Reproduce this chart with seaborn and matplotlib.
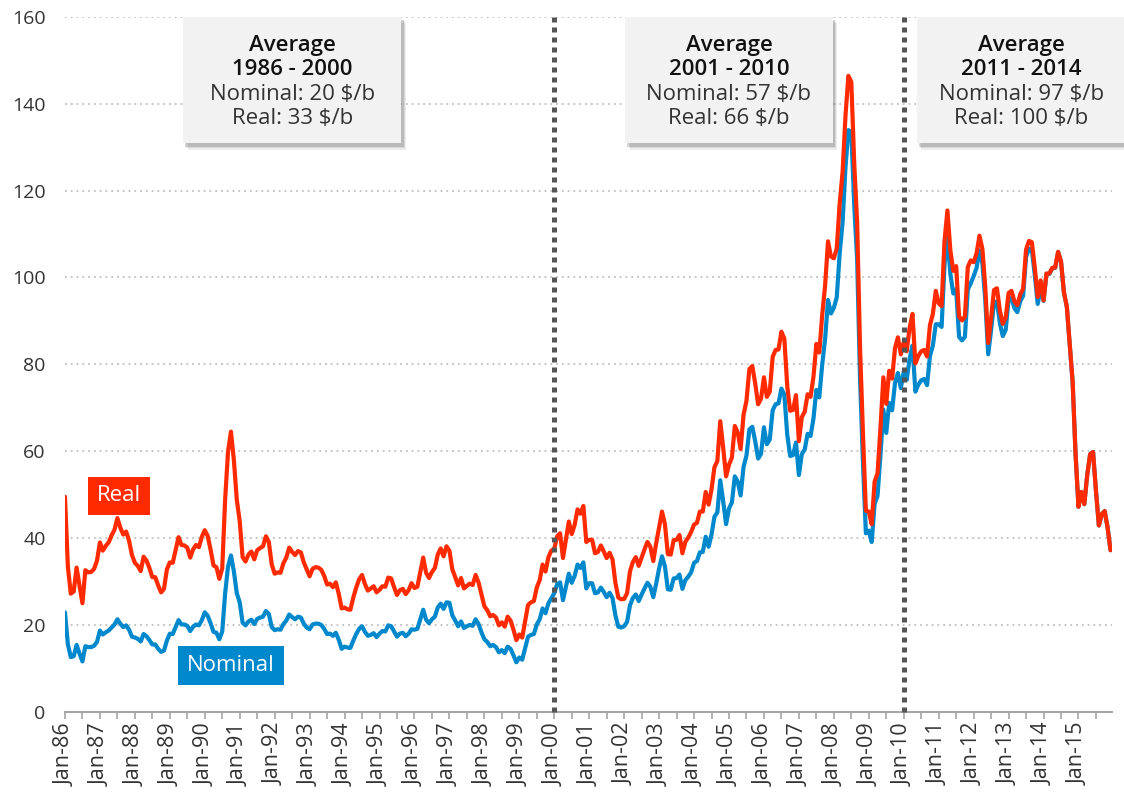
import numpy as np
import seaborn as sns
import matplotlib.pyplot as plt
from matplotlib.patches import Rectangle

# Monthly crude oil price, Jan-1986 .. Dec-2015, $/b
nominal = [
    22.9, 15.5, 12.6, 12.8, 15.4, 13.4, 11.6, 15.1, 14.9, 14.9, 15.2, 16.1,   # 1986
    18.7, 17.8, 18.3, 18.7, 19.4, 20.1, 21.3, 20.3, 19.5, 19.9, 18.9, 17.3,   # 1987
    17.1, 16.8, 16.2, 17.9, 17.4, 16.5, 15.5, 15.5, 14.5, 13.8, 14.1, 16.4,   # 1988
    18.0, 17.9, 19.5, 21.1, 20.1, 20.1, 19.8, 18.6, 19.6, 20.1, 19.9, 21.1,   # 1989
    22.9, 22.1, 20.4, 18.4, 18.2, 16.7, 18.5, 27.3, 33.5, 36.0, 32.3, 27.3,   # 1990
    25.2, 20.5, 19.9, 20.8, 21.2, 20.2, 21.4, 21.7, 21.9, 23.2, 22.5, 19.5,   # 1991
    18.8, 19.0, 18.9, 20.2, 21.0, 22.4, 21.8, 21.3, 21.9, 21.7, 20.3, 19.4,   # 1992
    19.0, 20.1, 20.3, 20.3, 20.0, 19.1, 17.9, 18.0, 17.5, 18.2, 16.6, 14.5,   # 1993
    15.0, 14.8, 14.7, 16.4, 17.9, 19.1, 19.7, 18.4, 17.5, 17.7, 18.1, 17.2,   # 1994
    18.0, 18.6, 18.5, 19.9, 19.7, 18.5, 17.3, 18.0, 18.2, 17.4, 18.0, 19.0,   # 1995
    18.9, 19.1, 21.3, 23.5, 21.2, 20.4, 21.3, 21.9, 24.0, 24.9, 23.7, 25.2,   # 1996
    25.1, 22.2, 21.0, 19.7, 20.8, 19.3, 19.7, 20.0, 19.8, 21.3, 20.2, 18.3,   # 1997
    16.7, 16.1, 15.1, 15.4, 14.9, 13.7, 14.2, 13.5, 15.0, 14.5, 13.0, 11.4,   # 1998
    12.5, 12.0, 14.7, 17.3, 17.7, 17.9, 20.1, 21.3, 23.8, 22.7, 25.0, 26.1,   # 1999
    27.3, 29.4, 29.8, 25.7, 28.8, 31.8, 29.7, 31.3, 33.9, 33.1, 34.4, 28.4,   # 2000
    29.6, 29.6, 27.3, 27.5, 28.6, 27.6, 26.4, 27.4, 26.2, 22.2, 19.6, 19.4,   # 2001
    19.7, 20.7, 24.5, 26.2, 27.0, 25.5, 27.0, 28.4, 29.7, 28.8, 26.4, 29.5,   # 2002
    33.0, 35.8, 33.5, 28.2, 28.1, 30.7, 30.8, 31.6, 28.3, 30.3, 31.1, 32.1,   # 2003
    34.3, 34.7, 36.7, 36.8, 40.3, 38.0, 40.8, 44.9, 45.9, 53.3, 48.5, 43.2,   # 2004
    46.8, 48.2, 54.2, 53.0, 49.8, 56.4, 59.0, 65.0, 65.6, 62.3, 58.3, 59.4,   # 2005
    65.5, 61.6, 62.7, 69.4, 70.8, 71.0, 74.4, 73.0, 63.8, 58.9, 59.1, 62.0,   # 2006
    54.5, 59.3, 60.4, 64.0, 63.5, 67.5, 74.1, 72.4, 79.9, 85.8, 94.8, 91.7,   # 2007
    93.0, 95.4, 105.5, 112.6, 125.4, 133.9, 133.4, 116.7, 104.1, 76.6, 57.3, 41.1,  # 2008
    41.7, 39.1, 47.9, 49.7, 59.0, 69.6, 64.2, 71.1, 69.4, 75.7, 78.0, 74.5,   # 2009
    78.3, 76.4, 81.2, 84.3, 73.7, 75.3, 76.3, 76.6, 75.2, 81.9, 84.3, 89.2,   # 2010
    89.2, 88.6, 102.9, 109.5, 100.9, 96.3, 97.3, 86.3, 85.5, 86.3, 97.2, 98.6,  # 2011
    100.3, 102.2, 106.2, 103.3, 94.7, 82.3, 87.9, 94.1, 94.5, 89.5, 86.5, 87.9,  # 2012
    94.8, 95.3, 92.9, 92.0, 94.5, 95.8, 104.7, 106.6, 106.3, 100.5, 93.9, 97.6,  # 2013
    94.6, 100.8, 100.8, 102.1, 102.2, 105.8, 103.6, 96.5, 93.2, 84.4, 75.8, 59.3,  # 2014
    47.2, 50.6, 47.8, 54.5, 59.3, 59.8, 50.9, 42.9, 45.5, 46.2, 42.4, 37.2,   # 2015
]

real = [
    49.5, 33.4, 27.2, 27.7, 33.2, 29.0, 25.0, 32.6, 32.1, 32.2, 32.9, 34.8,   # 1986
    39.0, 37.1, 38.2, 39.0, 40.6, 41.9, 44.6, 42.4, 40.8, 41.5, 39.4, 36.1,   # 1987
    34.3, 33.6, 32.4, 35.7, 34.8, 33.1, 31.0, 31.0, 29.1, 27.5, 28.3, 32.8,   # 1988
    34.4, 34.3, 37.2, 40.2, 38.4, 38.3, 37.8, 35.5, 37.4, 38.4, 37.9, 40.3,   # 1989
    41.8, 40.5, 37.3, 33.7, 33.3, 30.6, 33.0, 48.9, 60.0, 64.5, 57.9, 48.8,   # 1990
    43.9, 35.6, 34.6, 36.2, 36.9, 35.1, 37.2, 37.7, 38.1, 40.4, 39.1, 33.9,   # 1991
    31.8, 32.1, 32.0, 34.2, 35.5, 37.8, 36.8, 36.1, 37.0, 36.7, 34.4, 32.8,   # 1992
    31.2, 32.9, 33.3, 33.2, 32.7, 31.3, 29.3, 29.5, 28.7, 29.8, 27.2, 23.8,   # 1993
    24.0, 23.6, 23.5, 26.3, 28.6, 30.5, 31.5, 29.4, 27.9, 28.4, 28.9, 27.5,   # 1994
    28.1, 28.9, 28.8, 30.9, 30.7, 28.7, 26.9, 28.0, 28.3, 27.1, 28.0, 29.6,   # 1995
    28.5, 28.8, 32.2, 35.5, 32.0, 30.8, 32.2, 33.1, 36.2, 37.6, 35.8, 38.1,   # 1996
    37.1, 32.8, 31.0, 29.1, 30.8, 28.4, 29.0, 29.5, 29.2, 31.5, 29.8, 27.1,   # 1997
    24.3, 23.4, 22.0, 22.3, 21.7, 19.9, 20.6, 19.6, 21.9, 21.0, 18.9, 16.5,   # 1998
    17.8, 17.1, 20.9, 24.6, 25.2, 25.5, 28.6, 30.3, 33.9, 32.3, 35.6, 37.1,   # 1999
    37.5, 40.4, 41.1, 35.4, 39.6, 43.8, 40.9, 43.0, 46.6, 45.6, 47.4, 39.1,   # 2000
    39.6, 39.6, 36.5, 36.8, 38.3, 36.9, 35.4, 36.6, 35.1, 29.7, 26.3, 25.9,   # 2001
    26.0, 27.3, 32.3, 34.5, 35.6, 33.6, 35.5, 37.4, 39.1, 38.0, 34.7, 38.8,   # 2002
    42.4, 46.1, 43.2, 36.3, 36.2, 39.5, 39.6, 40.7, 36.5, 39.1, 40.1, 41.4,   # 2003
    43.1, 43.5, 46.1, 46.1, 50.6, 47.7, 51.2, 56.3, 57.7, 66.9, 60.8, 54.2,   # 2004
    56.9, 58.5, 65.8, 64.3, 60.5, 68.4, 71.6, 78.9, 79.6, 75.6, 70.8, 72.1,   # 2005
    77.0, 72.5, 73.7, 81.7, 83.3, 83.4, 87.5, 85.9, 75.0, 69.3, 69.5, 72.9,   # 2006
    62.3, 67.8, 69.1, 73.1, 72.5, 77.1, 84.7, 82.7, 91.3, 98.1, 108.3, 104.8,  # 2007
    104.4, 106.7, 117.0, 124.2, 137.2, 146.4, 145.0, 126.2, 112.7, 83.8, 64.0, 46.3,  # 2008
    46.1, 43.2, 53.0, 54.9, 65.2, 77.0, 70.9, 78.5, 76.7, 83.7, 86.2, 82.3,   # 2009
    85.1, 83.0, 88.3, 91.6, 80.2, 81.9, 83.0, 83.3, 81.8, 89.0, 91.6, 96.9,   # 2010
    94.0, 93.4, 108.4, 115.4, 106.3, 101.5, 102.6, 91.0, 90.1, 91.0, 102.4, 103.9,  # 2011
    103.5, 105.5, 109.6, 106.6, 97.7, 84.9, 90.7, 97.1, 97.5, 92.4, 89.3, 90.7,  # 2012
    96.4, 96.9, 94.5, 93.6, 96.1, 97.4, 106.4, 108.4, 108.1, 102.2, 95.5, 99.3,  # 2013
    94.7, 100.9, 100.9, 102.2, 102.3, 105.9, 103.7, 96.6, 93.3, 84.5, 75.9, 59.3,  # 2014
    47.2, 50.6, 47.8, 54.5, 59.3, 59.8, 50.9, 42.9, 45.5, 46.2, 42.4, 37.2,   # 2015
]

tick_labels = ["Jan-86", "Jan-87", "Jan-88", "Jan-89", "Jan-90", "Jan-91", "Jan-92",
               "Jan-93", "Jan-94", "Jan-95", "Jan-96", "Jan-97", "Jan-98", "Jan-99",
               "Jan-00", "Jan-01", "Jan-02", "Jan-03", "Jan-04", "Jan-05", "Jan-06",
               "Jan-07", "Jan-08", "Jan-09", "Jan-10", "Jan-11", "Jan-12", "Jan-13",
               "Jan-14", "Jan-15"]

period_breaks = ["Jan-00", "Jan-10"]
box_titles = [["Average", "1986 - 2000"], ["Average", "2001 - 2010"], ["Average", "2011 - 2014"]]
box_lines = [["Nominal: 20 $/b", "Real: 33 $/b"],
             ["Nominal: 57 $/b", "Real: 66 $/b"],
             ["Nominal: 97 $/b", "Real: 100 $/b"]]

RED = "#FF2A00"
BLUE = "#0088CC"

sns.set_style("white")
plt.rcParams["font.family"] = ["Open Sans", "DejaVu Sans"]

months = np.arange(len(nominal))

fig = plt.figure(figsize=(11.24, 7.98), dpi=100)
ax = fig.add_axes([0.0578, 0.108, 0.9315, 0.871])

sns.lineplot(x=months, y=nominal, ax=ax, color=BLUE, linewidth=3.0, zorder=3)
sns.lineplot(x=months, y=real, ax=ax, color=RED, linewidth=3.0, zorder=4)

ax.set_xlim(0, 359.5)
ax.set_ylim(0, 160)

# y axis
ax.set_yticks(range(0, 161, 20))
ax.tick_params(axis="y", length=0, pad=14, labelsize=14, labelcolor="#333333")
for v in range(20, 161, 20):
    ax.axhline(v, color="#BFBFBF", linewidth=1.3, linestyle=(0, (1, 2.2)), zorder=1)

# x axis: labels every January, ticks every 6 months
tick_pos = np.arange(0, 360, 6)
ax.set_xticks(tick_pos)
ax.set_xticklabels([tick_labels[i // 2] if i % 2 == 0 else "" for i in range(len(tick_pos))],
                   rotation=90)
ax.tick_params(axis="x", length=5, width=1.2, color="#A6A6A6", pad=3,
               labelsize=15.5, labelcolor="#333333", direction="out", bottom=True)

for s in ["top", "right", "left"]:
    ax.spines[s].set_visible(False)
ax.spines["bottom"].set_color("#A6A6A6")
ax.spines["bottom"].set_linewidth(1.5)
ax.set_xlabel("")
ax.set_ylabel("")

# period separators
for lab in period_breaks:
    xb = tick_labels.index(lab) * 12
    ax.plot([xb, xb], [0, 160], color="#555555", linewidth=3.6,
            linestyle=(0, (1, 1)), dash_capstyle="butt", zorder=5, clip_on=False)

# average boxes
box_x = [(40.5, 115.5), (192.3, 263.6), (292.4, 363.5)]
box_cx = [78, 228, 328.4]
for (x0, x1), cx, titles, lines in zip(box_x, box_cx, box_titles, box_lines):
    for k, a in enumerate([0.10, 0.14, 0.22]):
        off = 1.6 - k * 0.4
        ax.add_patch(Rectangle((x0 + off, 130.8 - off * 0.9), x1 - x0, 29.2,
                               facecolor="#555555", alpha=a, edgecolor="none",
                               zorder=6, clip_on=False))
    ax.add_patch(Rectangle((x0, 131), x1 - x0, 29, facecolor="#F2F2F2",
                           edgecolor="none", zorder=7, clip_on=False))
    ax.text(cx, 153.4, titles[0], ha="center", va="center", fontsize=16,
            color="#111111", fontweight="semibold", zorder=8)
    ax.text(cx, 147.8, titles[1], ha="center", va="center", fontsize=16,
            color="#111111", fontweight="semibold", zorder=8)
    ax.text(cx, 142.1, lines[0], ha="center", va="center", fontsize=16,
            color="#333333", zorder=8)
    ax.text(cx, 136.5, lines[1], ha="center", va="center", fontsize=16,
            color="#333333", zorder=8)

# series labels
ax.text(18.5, 49.7, "Real", ha="center", va="center", fontsize=16, color="white",
        zorder=8, bbox=dict(boxstyle="square,pad=0.4", facecolor=RED, edgecolor="none"))
ax.text(57, 10.6, "Nominal", ha="center", va="center", fontsize=16, color="white",
        zorder=8, bbox=dict(boxstyle="square,pad=0.4", facecolor=BLUE, edgecolor="none"))

fig.savefig("out.png", dpi=100)
